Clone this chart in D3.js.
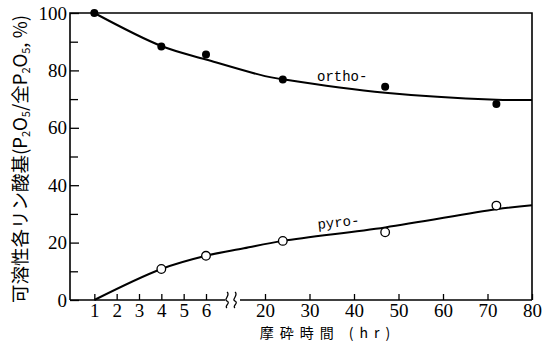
<!DOCTYPE html>
<html>
<head>
<meta charset="utf-8">
<script src="https://cdn.jsdelivr.net/npm/d3@7"></script>
<style>
	body { margin: 0; background: #fff; }
	text { fill: #000; }
	.tick text { font-family: "Liberation Serif", "DejaVu Serif", serif; font-size: 19px; }
</style>
</head>
<body>
<svg id="chart"></svg>
<script>
const w = 548
const h = 348

// measured points (hr, %)
const orthoHours = [1, 4, 6, 24, 47, 72]
const orthoValues = [100, 88.3, 85.5, 76.8, 74.3, 68.3]
const pyroHours = [4, 6, 24, 47, 72]
const pyroValues = [10.8, 15.4, 20.6, 23.6, 32.9]

// hand drawn curves
const orthoCurveHours = [1, 4, 6, 20, 24, 47, 72, 80]
const orthoCurveValues = [100, 88.5, 83.8, 78, 76.9, 72.2, 69.8, 69.7]
const pyroCurveHours = [1, 4, 6, 15, 24, 47, 72, 80]
const pyroCurveValues = [0, 10.8, 15.4, 18, 20.6, 25.3, 31.6, 33]

const xTicks = [1, 2, 3, 4, 5, 6, 20, 30, 40, 50, 60, 70, 80]
const yTicks = [0, 20, 40, 60, 80, 100]
const yMinor = [10, 30, 50, 70, 90]

const pLeft = 70, pRight = 532, pTop = 13, pBottom = 300

const SVG = d3.select('#chart')
	.attr('width', w)
	.attr('height', h)

SVG.append('rect').attr('width', w).attr('height', h).attr('fill', '#fff')

// broken axis: 0-6 then 20-80
const x = d3.scaleLinear()
	.domain([0, 6, 20, 80])
	.range([72, 206, 265, pRight])
const y = d3.scaleLinear()
	.domain([0, 100])
	.range([pBottom, pTop])

// frame
SVG.append('path')
	.attr('d', `M${pLeft},${pBottom} L${pLeft},${pTop} L${pRight},${pTop} L${pRight},${pBottom}`)
	.attr('fill', 'none')
	.attr('stroke', '#000')
	.attr('stroke-width', 1.6)

// bottom line with break
SVG.append('line').attr('x1', pLeft).attr('x2', 225).attr('y1', pBottom).attr('y2', pBottom)
	.attr('stroke', '#000').attr('stroke-width', 1.6)
SVG.append('line').attr('x1', 240).attr('x2', pRight).attr('y1', pBottom).attr('y2', pBottom)
	.attr('stroke', '#000').attr('stroke-width', 1.6)
;[227, 235].forEach(bx => {
	SVG.append('path')
		.attr('d', `M${bx},292 C${bx + 4},295 ${bx - 4},300 ${bx},301 C${bx + 4},303 ${bx - 3},306 ${bx},308`)
		.attr('fill', 'none')
		.attr('stroke', '#000')
		.attr('stroke-width', 1.3)
})

const xAxis = SVG.append('g')
	.attr('transform', `translate(0, ${pBottom})`)
	.call(d3.axisBottom(x).tickValues(xTicks).tickSize(-6).tickPadding(3))
xAxis.select('.domain').remove()
xAxis.selectAll('line').attr('stroke-width', 1.3)

const yAxis = SVG.append('g')
	.attr('transform', `translate(${pLeft}, 0)`)
	.call(d3.axisLeft(y).tickValues(yTicks).tickSize(-9).tickPadding(3))
yAxis.select('.domain').remove()
yAxis.selectAll('line').attr('stroke-width', 1.3)

const yMinorAxis = SVG.append('g')
	.attr('transform', `translate(${pLeft}, 0)`)
	.call(d3.axisLeft(y).tickValues(yMinor).tickSize(-8).tickFormat(''))
yMinorAxis.select('.domain').remove()
yMinorAxis.selectAll('line').attr('stroke-width', 1.3)

// curves
const line = d3.line()
	.x(d => x(d[0]))
	.y(d => y(d[1]))
	.curve(d3.curveCatmullRom)

SVG.append('path')
	.attr('d', line(d3.zip(orthoCurveHours, orthoCurveValues)))
	.attr('fill', 'none')
	.attr('stroke', '#000')
	.attr('stroke-width', 2)
SVG.append('path')
	.attr('d', line(d3.zip(pyroCurveHours, pyroCurveValues)))
	.attr('fill', 'none')
	.attr('stroke', '#000')
	.attr('stroke-width', 2)

// points
SVG.selectAll('circle.ortho').data(d3.zip(orthoHours, orthoValues))
	.enter().append('circle').attr('class', 'ortho')
	.attr('cx', d => x(d[0]))
	.attr('cy', d => y(d[1]))
	.attr('r', 4)
	.attr('fill', '#000')

SVG.selectAll('circle.pyro').data(d3.zip(pyroHours, pyroValues))
	.enter().append('circle').attr('class', 'pyro')
	.attr('cx', d => x(d[0]))
	.attr('cy', d => y(d[1]))
	.attr('r', 4.3)
	.attr('fill', '#fff')
	.attr('stroke', '#000')
	.attr('stroke-width', 1.3)

// labels on the curves
SVG.append('text')
	.attr('x', 317).attr('y', 81)
	.attr('font-family', '"Liberation Mono", monospace')
	.attr('font-size', 14)
	.text('ortho-')
SVG.append('text')
	.attr('transform', 'translate(318, 229) rotate(-6)')
	.attr('font-family', '"Liberation Mono", monospace')
	.attr('font-size', 14)
	.text('pyro-')

// axis titles
SVG.append('text')
	.attr('x', 328).attr('y', 338)
	.attr('text-anchor', 'middle')
	.attr('font-family', '"Noto Sans CJK JP", sans-serif')
	.attr('font-size', 14)
	.attr('letter-spacing', 6)
	.text('摩砕時間 (hr)')

const yTitle = SVG.append('text')
	.attr('transform', 'translate(27, 159) rotate(-90)')
	.attr('text-anchor', 'middle')
	.attr('font-family', '"Noto Sans CJK JP", sans-serif')
	.attr('font-size', 18.5)
yTitle.append('tspan').text('可溶性各リン酸基(P')
yTitle.append('tspan').attr('font-size', 11).attr('dy', 3).text('2')
yTitle.append('tspan').attr('dy', -3).text('O')
yTitle.append('tspan').attr('font-size', 11).attr('dy', 3).text('5')
yTitle.append('tspan').attr('dy', -3).text('/全P')
yTitle.append('tspan').attr('font-size', 11).attr('dy', 3).text('2')
yTitle.append('tspan').attr('dy', -3).text('O')
yTitle.append('tspan').attr('font-size', 11).attr('dy', 3).text('5')
yTitle.append('tspan').attr('dy', -3).text(', %)')
</script>
</body>
</html>
